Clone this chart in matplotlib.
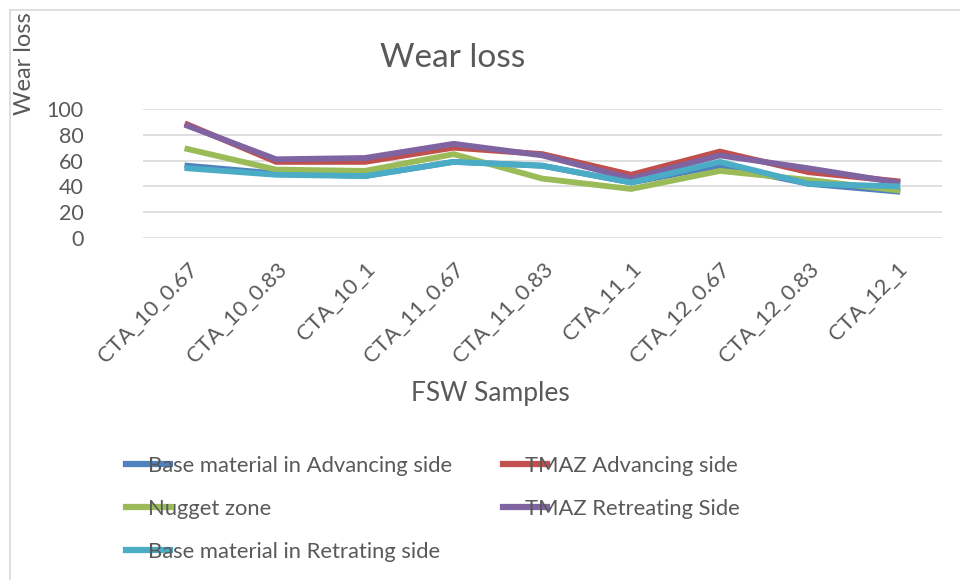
import matplotlib.pyplot as plt
from matplotlib.lines import Line2D

# ---- data ----
samples = ['CTA_10_0.67', 'CTA_10_0.83', 'CTA_10_1', 'CTA_11_0.67', 'CTA_11_0.83',
           'CTA_11_1', 'CTA_12_0.67', 'CTA_12_0.83', 'CTA_12_1']
yticks = [0, 20, 40, 60, 80, 100]

base_adv = [56, 50, 48, 59, 56, 43, 56, 42, 36]
tmaz_adv = [88, 59, 59, 70, 65, 49, 67, 51, 44]
nugget = [69, 53, 52, 65, 46, 38, 52, 45, 37]
tmaz_ret = [87, 61, 62, 73, 64, 46, 64, 54, 43]
base_ret = [54, 49, 48, 59, 56, 43, 59, 42, 40]

series = [
    ('Base material in Advancing side', base_adv, '#4F81BD'),
    ('TMAZ Advancing side', tmaz_adv, '#C0504D'),
    ('Nugget zone', nugget, '#9BBB59'),
    ('TMAZ Retreating Side', tmaz_ret, '#8064A2'),
    ('Base material in Retrating side', base_ret, '#4BACC6'),
]

TXT = '#595959'
plt.rcParams['font.family'] = ['Lato', 'DejaVu Sans']

fig = plt.figure(figsize=(9.6, 5.8), dpi=100)
ax = fig.add_axes([0.149, 0.5897, 0.832, 0.2224])

x = list(range(len(samples)))
for name, vals, col in series:
    ax.plot(x, vals, color=col, lw=4.2, solid_joinstyle='miter', label=name)

ax.set_xlim(-0.5, len(samples) - 0.5)
ax.set_ylim(0, 100)
ax.set_yticks(yticks)
ax.set_yticklabels([str(v) for v in yticks], fontsize=15.5, color=TXT)
ax.grid(axis='y', color='#D9D9D9', lw=1.2)
ax.set_axisbelow(True)
for s in ax.spines.values():
    s.set_visible(False)
ax.tick_params(axis='y', length=0, pad=43)
ax.tick_params(axis='x', length=0, pad=15)
ax.set_xticks(x)
ax.set_xticklabels(samples, rotation=45, ha='right', va='top',
                   rotation_mode='anchor', fontsize=15.8, color=TXT)
for lbl in ax.get_yticklabels():
    lbl.set_ha('right')

fig.text(0.472, 0.9, 'Wear loss', fontsize=24, color=TXT, ha='center', va='center')
fig.text(0.026, 0.89, 'Wear loss', fontsize=17, color=TXT, rotation=90,
         ha='center', va='center')
fig.text(0.511, 0.322, 'FSW Samples', fontsize=19, color=TXT, ha='center', va='center')

# legend, Excel style: line handle overlapping the start of the text
order = [0, 2, 4, 1, 3]
handles = [Line2D([], [], color=series[i][2], lw=4.5) for i in order]
labels = [series[i][0] for i in order]
leg = fig.legend(handles, labels, ncol=2, loc='upper left',
                 bbox_to_anchor=(0.12, 0.233), frameon=False, fontsize=15.8,
                 handlelength=2.0, handletextpad=-1.0, columnspacing=2.3,
                 labelspacing=1.05, labelcolor=TXT, borderpad=0)

# light chart border (top and left visible)
fig.add_artist(Line2D([0.0104, 1.0], [0.983, 0.983], transform=fig.transFigure,
                      color='#D9D9D9', lw=1.2))
fig.add_artist(Line2D([0.0104, 0.0104], [0.0, 0.983], transform=fig.transFigure,
                      color='#D9D9D9', lw=1.2))

fig.savefig('out.png', dpi=100, facecolor='white')
